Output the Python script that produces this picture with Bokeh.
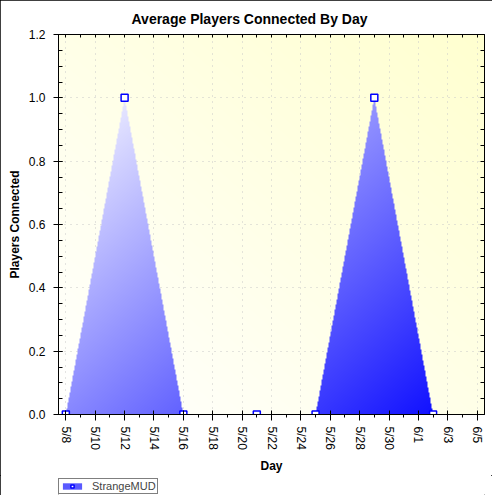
import numpy as np
import pandas as pd
from bokeh.plotting import figure
from bokeh.layouts import column
from bokeh.models import (Range1d, FixedTicker, DatetimeTickFormatter, LinearAxis,
                          DatetimeAxis, Legend, LegendItem, PrintfTickFormatter, Grid,
                          ColumnDataSource)
from bokeh.embed import file_html
from bokeh.resources import INLINE

# ---------------- data ----------------
YEAR = 2009
days = ["5/8", "5/12", "5/16", "5/21", "5/25", "5/29", "6/2"]
players = [0.0, 1.0, 0.0, 0.0, 0.0, 1.0, 0.0]
series_name = "StrangeMUD"
x_tick_labels = ["5/8", "5/10", "5/12", "5/14", "5/16", "5/18", "5/20", "5/22",
                 "5/24", "5/26", "5/28", "5/30", "6/1", "6/3", "6/5"]
y_ticks = [0.0, 0.2, 0.4, 0.6, 0.8, 1.0, 1.2]
title_text = "Average Players Connected By Day"
x_title = "Day"
y_title = "Players Connected"

FONT = "Liberation Sans"
DAY = 86400000.0


def to_ms(s):
    m, d = s.split("/")
    return pd.Timestamp(year=YEAR, month=int(m), day=int(d)).value / 1e6


x_ms = np.array([to_ms(s) for s in days])
y_vals = np.array(players)
tick_ms = [to_ms(s) for s in x_tick_labels]
day_ms = list(np.arange(tick_ms[0], tick_ms[-1] + DAY / 2, DAY))
y_minor = list(np.round(np.arange(y_ticks[0], y_ticks[-1] + 0.001, 0.05), 2))

x0, x1 = tick_ms[0] - 0.5 * DAY, tick_ms[-1] + 0.5 * DAY
y0, y1 = y_ticks[0], y_ticks[-1]

p = figure(frame_width=426, frame_height=380, x_axis_type=None, y_axis_type=None,
           x_range=Range1d(x0, x1), y_range=Range1d(y0, y1),
           output_backend="svg", toolbar_location=None,
           min_border_left=58, min_border_right=8, min_border_top=34, min_border_bottom=58,
           background_fill_color="white", border_fill_color="white")
p.outline_line_color = "black"
p.outline_line_width = 1

# ---------------- gradient background & gradient area ----------------
nx, ny = 426, 380
xn = (np.arange(nx) + 0.5) / nx
yn = (np.arange(ny) + 0.5) / ny
XN, YN = np.meshgrid(xn, yn)

bg = np.zeros((ny, nx, 4), dtype=np.uint8)
tb = (XN + YN) / 2.0
bg[..., 0] = 255
bg[..., 1] = 255
bg[..., 2] = np.round(255 - tb * 48).astype(np.uint8)
bg[..., 3] = 255
p.image_rgba(image=[bg.view(np.uint32).reshape(ny, nx)], x=x0, y=y0,
             dw=x1 - x0, dh=y1 - y0, level="image")

xs = x0 + xn * (x1 - x0)
ys = y0 + yn * (y1 - y0)
top = np.interp(xs, x_ms, y_vals, left=0.0, right=0.0)
mask = ys[:, None] <= top[None, :]
ta = np.clip((XN + (1.0 - YN)) / 2.0 * 1.08 - 0.08, 0, 1)
ar = np.zeros((ny, nx, 4), dtype=np.uint8)
ar[..., 0] = np.round(255 * (1 - ta)).astype(np.uint8)
ar[..., 1] = np.round(255 * (1 - ta)).astype(np.uint8)
ar[..., 2] = 255
ar[..., 3] = np.where(mask, 255, 0).astype(np.uint8)
p.image_rgba(image=[ar.view(np.uint32).reshape(ny, nx)], x=x0, y=y0,
             dw=x1 - x0, dh=y1 - y0)

# ---------------- markers ----------------
src = ColumnDataSource(dict(x=x_ms, y=y_vals, base=np.zeros_like(y_vals)))
marker_style = dict(marker="square", size=7, line_color="#0000ff",
                    fill_color="white", line_width=1.5)
markers = p.scatter("x", "y", source=src, **marker_style)

# ---------------- axes ----------------
xfmt = DatetimeTickFormatter(days="%-m/%-d", months="%-m/%-d", hours="%-m/%-d",
                             years="%-m/%-d", minutes="%-m/%-d")
bottom = DatetimeAxis(ticker=FixedTicker(ticks=tick_ms, minor_ticks=day_ms),
                      formatter=xfmt, axis_label=x_title,
                      major_label_orientation="vertical")
left = LinearAxis(ticker=FixedTicker(ticks=y_ticks, minor_ticks=y_minor),
                  formatter=PrintfTickFormatter(format="%.1f"), axis_label=y_title)
for ax in (bottom, left):
    ax.major_label_text_font = FONT
    ax.major_label_text_font_size = "12px"
    ax.major_label_text_color = "black"
    ax.axis_label_text_font = FONT
    ax.axis_label_text_font_size = "12px"
    ax.axis_label_text_font_style = "bold"
    ax.axis_label_text_color = "black"
    ax.axis_line_color = "black"
    ax.major_tick_line_color = "black"
    ax.minor_tick_line_color = "black"
bottom.major_tick_out = 6
bottom.major_tick_in = 4
bottom.minor_tick_out = 3
bottom.minor_tick_in = 0
bottom.major_label_standoff = 6
bottom.axis_label_standoff = 6
left.major_tick_out = 5
left.major_tick_in = 4
left.minor_tick_out = 0
left.minor_tick_in = 4
left.major_label_standoff = 8
left.axis_label_standoff = 4
p.add_layout(bottom, "below")
p.add_layout(left, "left")

top_ax = DatetimeAxis(ticker=FixedTicker(ticks=day_ms, minor_ticks=[]), formatter=xfmt,
                      major_label_text_font_size="0px", major_label_text_color=None,
                      major_label_standoff=0,
                      major_tick_in=3, major_tick_out=0, minor_tick_in=0, minor_tick_out=0,
                      axis_line_color="black", major_tick_line_color="black")
right_ax = LinearAxis(ticker=FixedTicker(ticks=y_minor, minor_ticks=[]),
                      major_label_text_font_size="0px", major_label_text_color=None,
                      major_label_standoff=0,
                      major_tick_in=4, major_tick_out=0, minor_tick_in=0, minor_tick_out=0,
                      axis_line_color="black", major_tick_line_color="black")
p.add_layout(top_ax, "above")
p.add_layout(right_ax, "right")

# ---------------- grids ----------------
for dim, tk in ((0, FixedTicker(ticks=tick_ms)), (1, FixedTicker(ticks=y_ticks))):
    g = Grid(dimension=dim, ticker=tk, grid_line_color="#c8c8c8",
             grid_line_dash="1 5", grid_line_width=1)
    p.add_layout(g)

# ---------------- title ----------------
p.title.text = title_text
p.title.text_font = FONT
p.title.text_font_size = "14px"
p.title.text_font_style = "bold"
p.title.text_color = "black"
p.title.align = "left"
p.title.offset = 73
p.title.standoff = 15

# ---------------- legend strip (separate small figure below) ----------------
lg = figure(width=492, height=20, x_axis_type=None, y_axis_type=None,
            x_range=Range1d(0, 1), y_range=Range1d(0, 1),
            output_backend="svg", toolbar_location=None,
            min_border_left=0, min_border_right=0, min_border_top=0, min_border_bottom=0,
            background_fill_color="white", border_fill_color="white")
lg.outline_line_color = None
lg.title.visible = False
# same series, drawn off this strip's view; only its legend glyph is seen
leg_area = lg.varea(x="x", y1="base", y2="y", source=src, fill_color="#5a5aff")
leg_mark = lg.scatter("x", "y", source=src, **marker_style)
legend = Legend(items=[LegendItem(label=series_name, renderers=[leg_area, leg_mark])],
                location=(0, 1), orientation="horizontal",
                label_text_font=FONT, label_text_font_size="11px",
                glyph_width=24, glyph_height=8, label_height=9, label_standoff=8,
                padding=1, margin=0, spacing=0,
                border_line_color="black", border_line_width=1,
                background_fill_color="white", background_fill_alpha=1)
lg.add_layout(legend)

layout = column(p, lg, spacing=0)
layout.styles = {"outline": "1px solid black", "outline-offset": "-1px"}

open("out.html", "w").write(file_html(layout, INLINE))
